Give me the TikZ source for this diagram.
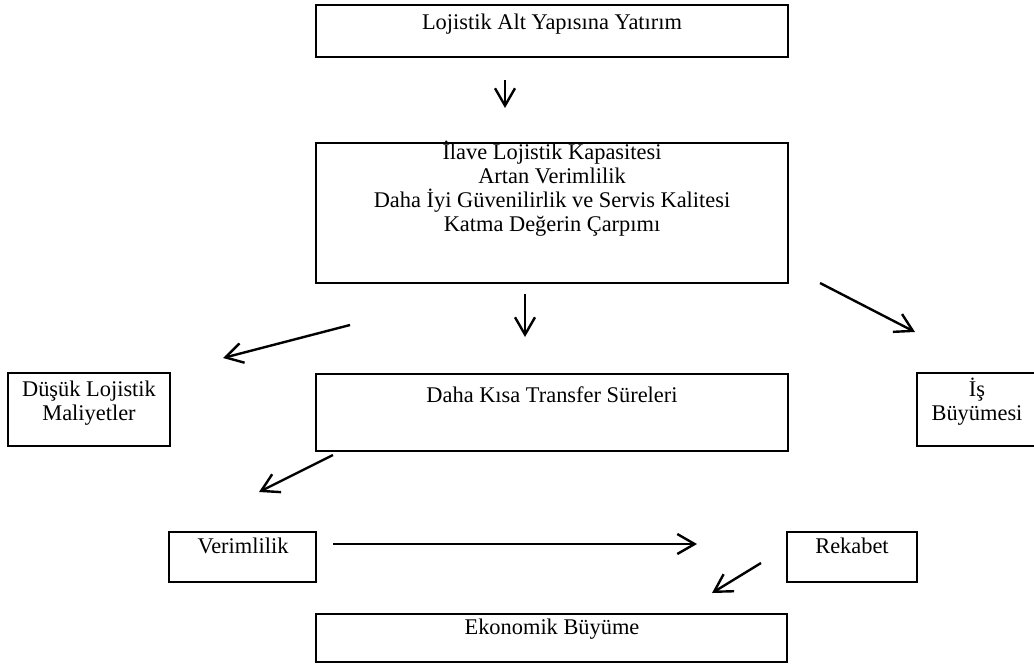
\documentclass[tikz,border=0pt]{standalone}
\usepackage{fontspec}
\setmainfont{Liberation Serif}
\usetikzlibrary{arrows.meta,fit}
\begin{document}
\begin{tikzpicture}[x=0.75pt,y=-0.75pt,
  box/.style={draw, line width=1.5pt, inner sep=0pt},
  txt/.style={anchor=base, inner sep=0pt, font=\fontsize{16.8}{18}\selectfont},
  arr/.style={line width=1.8pt, -{Straight Barb[length=13pt,width=15pt]}}]
\useasboundingbox (0,0) rectangle (1034,665);
\fill[white] (0,0) rectangle (1034,665);
% boxes
\node[box, fit={(316,5)(788,57)}] (b1) {};
\node[txt] (t1) at (552,29) {Lojistik Alt Yapısına Yatırım};
\node[box, fit={(316,143)(788,283)}] (b2) {};
\node[txt] (t2a) at (552,159) {İlave Lojistik Kapasitesi};
\node[txt] (t2b) at (552,183) {Artan Verimlilik};
\node[txt] (t2c) at (552,207) {Daha İyi Güvenilirlik ve Servis Kalitesi};
\node[txt] (t2d) at (552,231) {Katma Değerin Çarpımı};
\node[box, fit={(8,373)(170,446)}] (b3) {};
\node[txt] (t3a) at (89,396) {Düşük Lojistik};
\node[txt] (t3b) at (89,420) {Maliyetler};
\node[box, fit={(316,374)(788,451)}] (b4) {};
\node[txt] (t4) at (552,402) {Daha Kısa Transfer Süreleri};
\node[box, fit={(917,373)(1040,446)}] (b5) {};
\node[txt] (t5a) at (977,396) {İş};
\node[txt] (t5b) at (977,420) {Büyümesi};
\node[box, fit={(169,532)(316,582)}] (b6) {};
\node[txt] (t6) at (243,553) {Verimlilik};
\node[box, fit={(787,532)(917,582)}] (b7) {};
\node[txt] (t7) at (852,553) {Rekabet};
\node[box, fit={(316,614)(787,662)}] (b8) {};
\node[txt] (t8) at (552,634) {Ekonomik Büyüme};
% arrows (free-standing)
\coordinate (a1s) at (505,80);  \coordinate (a1e) at (505,108);
\coordinate (a2s) at (525,294); \coordinate (a2e) at (525,337);
\coordinate (a3s) at (350,325); \coordinate (a3e) at (223,358);
\coordinate (a4s) at (820,283); \coordinate (a4e) at (915,332);
\coordinate (a5s) at (333,455); \coordinate (a5e) at (259,492);
\coordinate (a6s) at (333,544); \coordinate (a6e) at (697,544);
\coordinate (a7s) at (761,563); \coordinate (a7e) at (712,593);
\draw[arr] (a1s) -- (a1e);
\draw[arr] (a2s) -- (a2e);
\draw[arr] (a3s) -- (a3e);
\draw[arr] (a4s) -- (a4e);
\draw[arr] (a5s) -- (a5e);
\draw[arr] (a6s) -- (a6e);
\draw[arr] (a7s) -- (a7e);
\end{tikzpicture}
\end{document}
